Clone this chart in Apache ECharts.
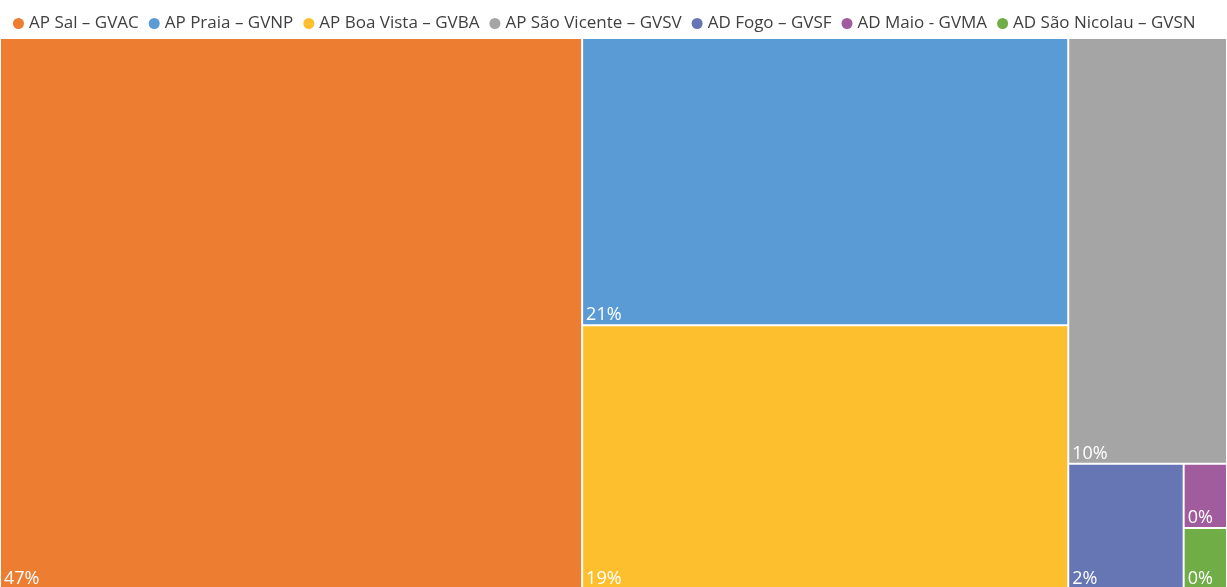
<!DOCTYPE html>
<html>
<head>
<meta charset="utf-8">
<script src="https://cdn.jsdelivr.net/npm/echarts@6/dist/echarts.min.js"></script>
<style>
html,body{margin:0;padding:0;background:#fff;}
#main{width:1227px;height:587px;}
</style>
</head>
<body>
<div id="main"></div>
<script>
var categories = ["AP Sal – GVAC","AP Praia – GVNP","AP Boa Vista – GVBA","AP São Vicente – GVSV","AD Fogo – GVSF","AD Maio - GVMA","AD São Nicolau – GVSN"];
var values = [47.3, 20.6, 18.9, 9.97, 2.13, 0.41, 0.39];
var labels = ["47%","21%","19%","10%","2%","0%","0%"];
var colors = ["#ED7D31","#5B9BD5","#FDBF2D","#A5A5A5","#6675B3","#A05C9D","#70AD47"];

var chart = echarts.init(document.getElementById('main'));
var tmData = categories.map(function(c,i){
  return {name:c, value:values[i], itemStyle:{color:colors[i]}, label:{formatter:labels[i]}};
});
chart.setOption({
  animation:false,
  legend:{
    data:categories,
    top:10,
    left:8,
    icon:'circle',
    itemWidth:11,
    itemHeight:11,
    itemGap:10,
    textStyle:{fontFamily:'Open Sans',fontSize:17,color:'#404040'}
  },
  series:[
    {
      type:'treemap',
      left:-1,right:-1,top:37,height:553,
      roam:false,nodeClick:false,
      breadcrumb:{show:false},
      itemStyle:{borderColor:'#fff',borderWidth:1,gapWidth:0},
      label:{show:true,position:'insideBottomLeft',color:'#fff',fontFamily:'Open Sans',fontSize:18,padding:[0,0,0,3]},
      data:tmData
    },
    {
      type:'pie',radius:[0,0],center:[-100,-100],silent:true,
      label:{show:false},
      data:categories.map(function(c,i){return {name:c,value:1,itemStyle:{color:colors[i]}};})
    }
  ]
});
</script>
</body>
</html>
